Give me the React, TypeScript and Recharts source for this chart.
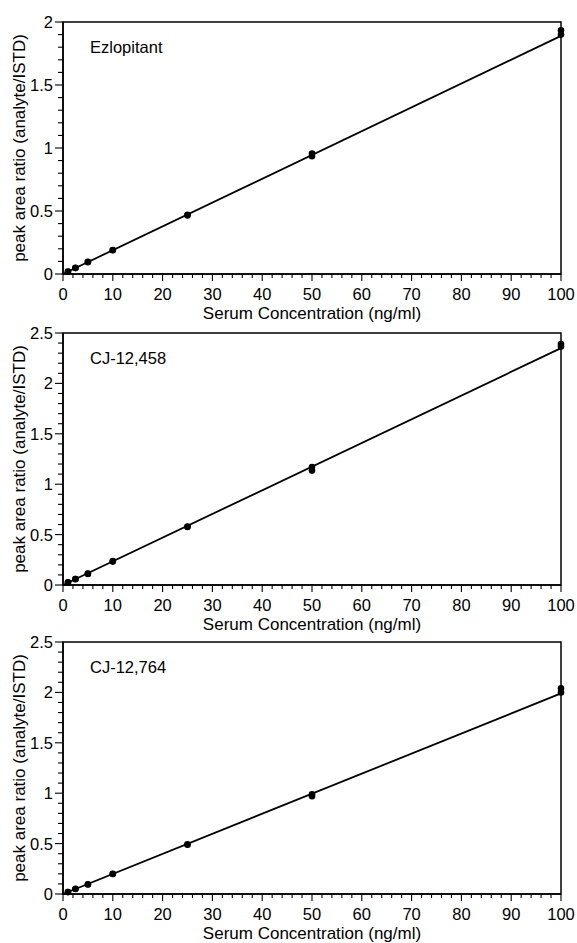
import React from 'react';
import { ComposedChart, Scatter, XAxis, YAxis, ReferenceArea, Label } from 'recharts';

const FONT = '"Liberation Sans", Arial, Helvetica, sans-serif';

// Concentrations (ng/ml)
const concentrations = [1, 2.5, 5, 10, 25, 50, 100];

// Ezlopitant replicates
const ezlopitantRep1 = [0.02, 0.047, 0.094, 0.19, 0.47, 0.955, 1.935];
const ezlopitantRep2 = [0.018, 0.05, 0.097, 0.188, 0.465, 0.935, 1.9];
const ezlopitantFit = [0, 1.89];

// CJ-12,458 replicates
const cj458Rep1 = [0.027, 0.058, 0.113, 0.237, 0.58, 1.17, 2.39];
const cj458Rep2 = [0.024, 0.06, 0.11, 0.232, 0.575, 1.135, 2.365];
const cj458Fit = [0, 2.35];

// CJ-12,764 replicates
const cj764Rep1 = [0.02, 0.05, 0.096, 0.198, 0.493, 0.99, 2.04];
const cj764Rep2 = [0.019, 0.052, 0.094, 0.2, 0.488, 0.97, 2.0];
const cj764Fit = [0, 1.99];

// Fit line x-range
const fitX = [0, 100];

// Axis ticks
const xTicks = [0, 2, 4, 6, 8, 10, 12, 14, 16, 18, 20, 22, 24, 26, 28, 30, 32, 34, 36, 38, 40, 42, 44, 46, 48, 50,
  52, 54, 56, 58, 60, 62, 64, 66, 68, 70, 72, 74, 76, 78, 80, 82, 84, 86, 88, 90, 92, 94, 96, 98, 100];
const xMajorTicks = [0, 10, 20, 30, 40, 50, 60, 70, 80, 90, 100];

const yTicks2 = [0, 0.1, 0.2, 0.3, 0.4, 0.5, 0.6, 0.7, 0.8, 0.9, 1, 1.1, 1.2, 1.3, 1.4, 1.5, 1.6, 1.7, 1.8, 1.9, 2];
const yMajor2 = [0, 0.5, 1, 1.5, 2];
const yTicks25 = [0, 0.1, 0.2, 0.3, 0.4, 0.5, 0.6, 0.7, 0.8, 0.9, 1, 1.1, 1.2, 1.3, 1.4, 1.5, 1.6, 1.7, 1.8, 1.9, 2,
  2.1, 2.2, 2.3, 2.4, 2.5];
const yMajor25 = [0, 0.5, 1, 1.5, 2, 2.5];

const xTitle = 'Serum Concentration (ng/ml)';
const yTitle = 'peak area ratio (analyte/ISTD)';

const panels = [
  { name: 'Ezlopitant', rep1: ezlopitantRep1, rep2: ezlopitantRep2, fit: ezlopitantFit, yTicks: yTicks2, yMajor: yMajor2, yMax: 2, top: 0 },
  { name: 'CJ-12,458', rep1: cj458Rep1, rep2: cj458Rep2, fit: cj458Fit, yTicks: yTicks25, yMajor: yMajor25, yMax: 2.5, top: 311 },
  { name: 'CJ-12,764', rep1: cj764Rep1, rep2: cj764Rep2, fit: cj764Fit, yTicks: yTicks25, yMajor: yMajor25, yMax: 2.5, top: 620 },
];

const TICK_FS = 16.5;
const TITLE_FS = 17;

const XTick = (props: any) => {
  const { x, y, payload } = props;
  const v = payload.value;
  const major = xMajorTicks.includes(v);
  return (
    <g>
      <line x1={x} x2={x} y1={y} y2={y + (major ? 7 : 4)} stroke="#000" strokeWidth={1.1} />
      {major && (
        <text x={x} y={y + 26} textAnchor="middle" fontSize={TICK_FS} fontFamily={FONT} fill="#000">
          {String(v)}
        </text>
      )}
    </g>
  );
};

const makeYTick = (majors: number[]) => (props: any) => {
  const { x, y, payload } = props;
  const v = payload.value;
  const major = majors.some((m) => Math.abs(m - v) < 1e-9);
  return (
    <g>
      <line x1={x - (major ? 8 : 5)} x2={x} y1={y} y2={y} stroke="#000" strokeWidth={1.1} />
      {major && (
        <text x={x - 10} y={y} dy="0.36em" textAnchor="end" fontSize={TICK_FS} fontFamily={FONT} fill="#000">
          {String(v)}
        </text>
      )}
    </g>
  );
};

const DotShape = (props: any) => {
  const { cx, cy } = props;
  if (cx == null || cy == null) return <g />;
  return <circle cx={cx} cy={cy} r={3.3} fill="#000" />;
};

const NoShape = () => <g />;

function Panel(p: any) {
  const points = [
    ...concentrations.map((x, i) => ({ x, y: p.rep1[i] })),
    ...concentrations.map((x, i) => ({ x, y: p.rep2[i] })),
  ];
  const line = fitX.map((x, i) => ({ x, y: p.fit[i] }));
  const W = 577;
  const H = 330;
  return (
    <div style={{ position: 'absolute', left: 0, top: p.top, width: W, height: H }}>
      <ComposedChart width={W} height={H} margin={{ top: 22, right: 16, bottom: 6, left: 0 }} style={{ fontFamily: FONT }}>
        <XAxis
          type="number"
          dataKey="x"
          domain={[0, 100]}
          ticks={xTicks}
          interval={0}
          tickSize={0}
          tickMargin={0}
          tickLine={false}
          axisLine={{ stroke: '#000', strokeWidth: 1.5 }}
          tick={(tp: any) => <XTick {...tp} />}
          height={50}
        >
          <Label value={xTitle} position="insideBottom" offset={5} style={{ fontSize: TITLE_FS, fill: '#000', fontFamily: FONT }} />
        </XAxis>
        <YAxis
          type="number"
          dataKey="y"
          domain={[0, p.yMax]}
          ticks={p.yTicks}
          interval={0}
          tickSize={0}
          tickMargin={0}
          tickLine={false}
          axisLine={{ stroke: '#000', strokeWidth: 1.5 }}
          tick={makeYTick(p.yMajor)}
          width={63}
        >
          <Label
            value={yTitle}
            angle={-90}
            position="insideLeft"
            offset={19}
            style={{ textAnchor: 'middle', fontSize: TITLE_FS, fill: '#000', fontFamily: FONT }}
          />
        </YAxis>
        <ReferenceArea x1={0} x2={100} y1={0} y2={p.yMax} fill="none" fillOpacity={0} stroke="#000" strokeWidth={1.5} />
        <Scatter data={line} dataKey="y" line={{ stroke: '#000', strokeWidth: 1.8 }} shape={NoShape} isAnimationActive={false} />
        <Scatter data={points} dataKey="y" shape={DotShape} isAnimationActive={false} />
      </ComposedChart>
      <svg width={W} height={H} style={{ position: 'absolute', left: 0, top: 0, pointerEvents: 'none' }}>
        <text x={90} y={53} fontSize={16.5} fontFamily={FONT} fill="#000">
          {p.name}
        </text>
      </svg>
    </div>
  );
}

export default function App() {
  return (
    <div style={{ position: 'absolute', left: 0, top: 0, width: 577, height: 943, background: '#fff', overflow: 'hidden' }}>
      {panels.map((p) => (
        <Panel key={p.name} {...p} />
      ))}
    </div>
  );
}
